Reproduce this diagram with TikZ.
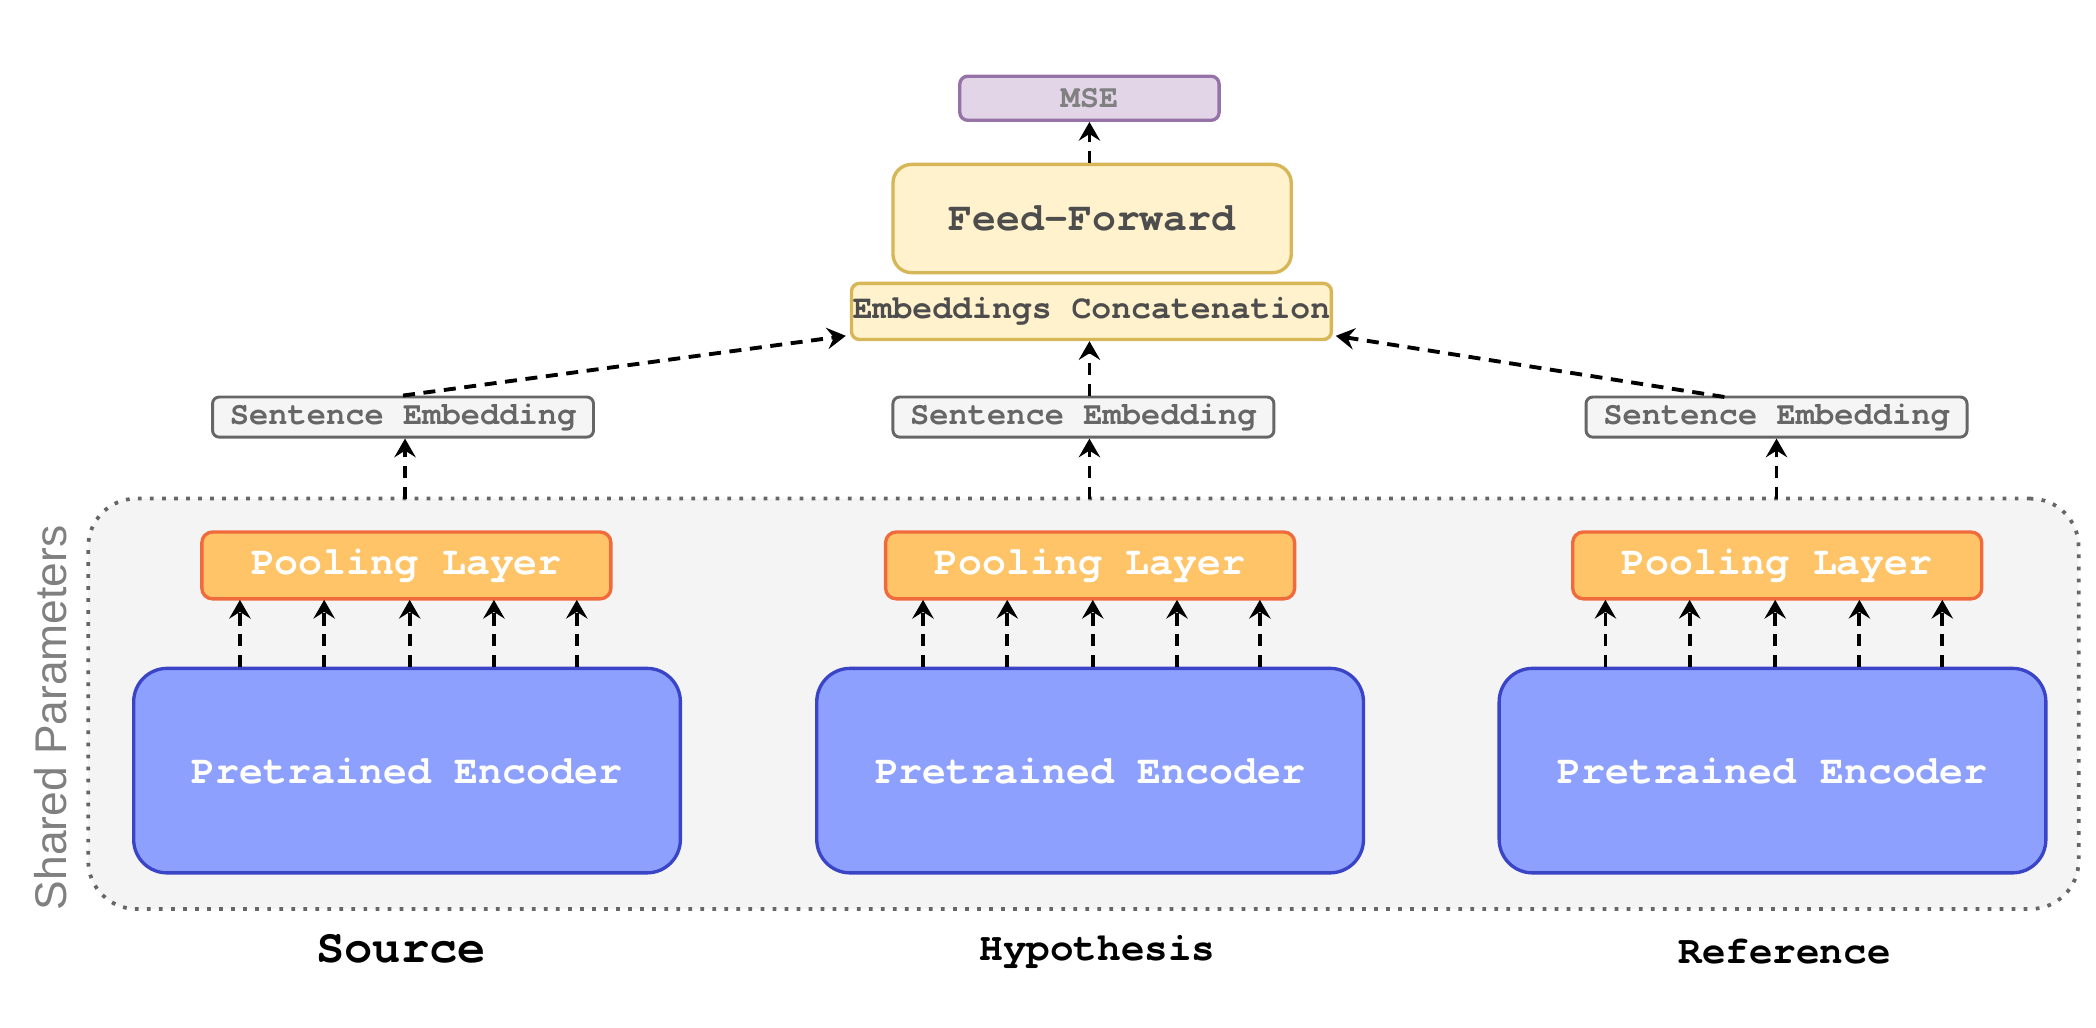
\documentclass[tikz,border=0pt]{standalone}
\usepackage{fontspec}
\setmonofont{TeX Gyre Cursor}
\setsansfont{Liberation Sans}
\usetikzlibrary{arrows.meta,calc}
\definecolor{mseFill}{HTML}{E1D5E7}
\definecolor{mseDraw}{HTML}{9673A6}
\definecolor{ylwFill}{HTML}{FFF2CC}
\definecolor{ylwDraw}{HTML}{D6B656}
\definecolor{seFill}{HTML}{F5F5F5}
\definecolor{seDraw}{HTML}{666666}
\definecolor{poolFill}{HTML}{FFC468}
\definecolor{poolDraw}{HTML}{F06A3C}
\definecolor{encFill}{HTML}{8EA0FE}
\definecolor{encDraw}{HTML}{3A44C6}
\definecolor{shFill}{HTML}{F4F4F4}
\definecolor{darkTxt}{HTML}{4D4D4D}
\begin{document}
\begin{tikzpicture}[x=0.5pt,y=-0.5pt,
  box/.style={inner sep=0pt, line width=1.25pt},
  msebox/.style={box, draw=mseDraw, fill=mseFill, rounded corners=3pt,
    minimum width=97pt, minimum height=16.5pt, text=gray,
    font=\fontsize{12}{14}\selectfont\ttfamily\bfseries},
  ffbox/.style={box, draw=ylwDraw, fill=ylwFill, rounded corners=7pt,
    minimum width=149pt, minimum height=40.5pt, text=darkTxt,
    font=\fontsize{14.9}{17}\selectfont\ttfamily\bfseries},
  ecbox/.style={box, draw=ylwDraw, fill=ylwFill, rounded corners=3pt,
    minimum width=179.5pt, minimum height=21pt, text=darkTxt,
    font=\fontsize{12.4}{14}\selectfont\ttfamily\bfseries},
  sebox/.style={box, line width=1.1pt, draw=seDraw, fill=seFill, rounded corners=2.5pt,
    minimum width=142.5pt, minimum height=15pt, text=seDraw,
    font=\fontsize{12}{14}\selectfont\ttfamily\bfseries},
  poolbox/.style={box, draw=poolDraw, fill=poolFill, rounded corners=4pt,
    minimum width=153pt, minimum height=25pt, text=white,
    font=\fontsize{14.9}{17}\selectfont\ttfamily\bfseries},
  encbox/.style={box, draw=encDraw, fill=encFill, rounded corners=12.5pt,
    minimum width=204.5pt, minimum height=76.5pt, text=white,
    font=\fontsize{14.9}{17}\selectfont\ttfamily\bfseries},
  lbl/.style={inner sep=0pt, text=black, font=\fontsize{14.7}{17}\selectfont\ttfamily\bfseries},
  conn/.style={draw=black, line width=1.45pt, dash pattern=on 4.5pt off 3.2pt,
    -{Stealth[length=7pt,width=8pt,inset=2.5pt]}},
]
\useasboundingbox (0,0) rectangle (1568,769);

% shared container
\node[draw=seDraw, fill=shFill, line width=1.4pt, dash pattern=on 1.4pt off 3.1pt,
  rounded corners=18pt, minimum width=744.5pt, minimum height=153.5pt, inner sep=0pt]
  (shared) at (810.5,526.5) {};
\node[rotate=90, text=gray, inner sep=0pt, font=\fontsize{16.6}{19}\selectfont\sffamily]
  (sharedlbl) at (38,537) {Shared Parameters};

% top
\node[msebox] (mse) at (815,73.5) {MSE};
\node[ffbox] (ff) at (817,163.5) {Feed-Forward};
\node[ecbox] (ec) at (816.5,233) {Embeddings Concatenation};

% sentence embeddings
\node[sebox] (se1) at (301.5,312) {Sentence Embedding};
\node[sebox] (se2) at (810.5,312) {Sentence Embedding};
\node[sebox] (se3) at (1329,312) {Sentence Embedding};

% pooling
\node[poolbox] (pool1) at (304,423) {Pooling Layer};
\node[poolbox] (pool2) at (815.5,423) {Pooling Layer};
\node[poolbox] (pool3) at (1329.5,423) {Pooling Layer};

% encoders
\node[encbox] (enc1) at (304.5,576.5) {Pretrained Encoder};
\node[encbox] (enc2) at (815.5,576.5) {Pretrained Encoder};
\node[encbox] (enc3) at (1326,576.5) {Pretrained Encoder};

% labels
\node[lbl, font=\fontsize{17.6}{20}\selectfont\ttfamily\bfseries] (src) at (300,710) {Source};
\node[lbl] (hyp) at (821,712) {Hypothesis};
\node[lbl] (ref) at (1335,712) {Reference};

% encoder -> pooling arrows
\foreach \i in {1,2,3}{
  \foreach \o in {-125,-62,2,65,127}{
    \draw[conn] ($(enc\i.north)+(\o,0)$) -- ($(enc\i.north)+(\o,-50)$);
  }
}

% container -> sentence embedding
\coordinate (t1) at (303,373);
\coordinate (t2) at (815,373);
\coordinate (t3) at (1329,373);
\draw[conn] (t1) -- (t1 |- se1.south);
\draw[conn] (t2) -- (t2 |- se2.south);
\draw[conn] (t3) -- (t3 |- se3.south);

% sentence embedding -> concatenation
\coordinate (ecL) at ($(ec.south west)+(-3,-4)$);
\coordinate (ecR) at ($(ec.south east)+(2,-4)$);
\coordinate (s3) at (1290,297);
\draw[conn] (se1.north) -- (ecL);
\draw[conn] (t2 |- se2.north) -- (t2 |- ec.south);
\draw[conn] (s3) -- (ecR);

% feed-forward -> MSE
\draw[conn] (ff.north -| mse.south) -- (mse.south);
\end{tikzpicture}
\end{document}
